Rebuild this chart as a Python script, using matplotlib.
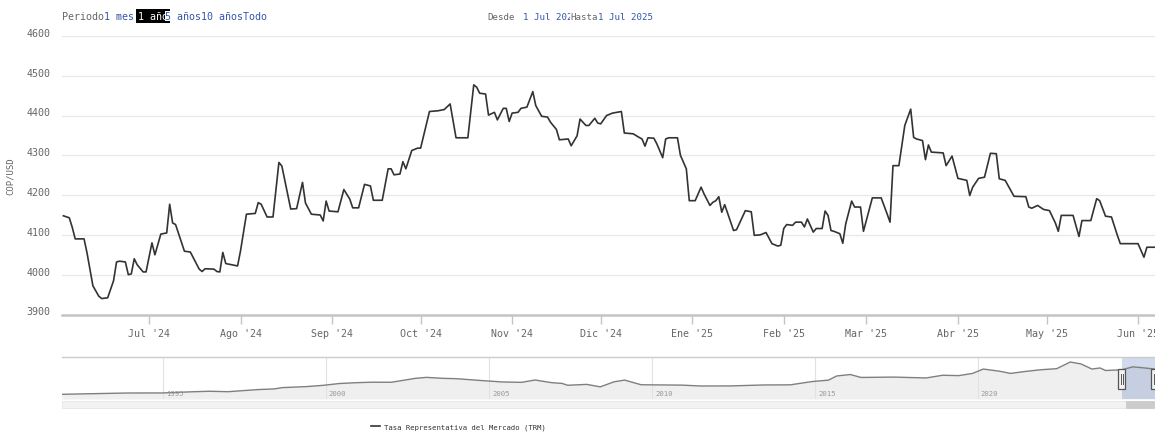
import matplotlib
matplotlib.use("Agg")
import matplotlib.pyplot as plt
import matplotlib.dates as mdates
import matplotlib.patches as mpatches
import matplotlib.lines as mlines
from matplotlib.transforms import blended_transform_factory, ScaledTranslation, IdentityTransform
import pandas as pd

plt.rcParams['font.family'] = ['DejaVu Sans Mono', 'DejaVu Sans']

##### data #####
trm_dates = [
    "2024-06-02", "2024-06-04", "2024-06-05", "2024-06-06", "2024-06-09", "2024-06-10", "2024-06-12",
    "2024-06-14", "2024-06-15", "2024-06-17", "2024-06-19", "2024-06-20", "2024-06-21", "2024-06-23",
    "2024-06-24", "2024-06-25", "2024-06-26", "2024-06-27", "2024-06-29", "2024-06-30",
    "2024-07-02", "2024-07-03", "2024-07-05", "2024-07-07", "2024-07-08", "2024-07-09", "2024-07-10",
    "2024-07-13", "2024-07-15", "2024-07-18", "2024-07-19", "2024-07-20", "2024-07-23", "2024-07-24",
    "2024-07-25", "2024-07-26", "2024-07-27", "2024-07-29", "2024-07-31",
    "2024-08-01", "2024-08-03", "2024-08-06", "2024-08-07", "2024-08-08", "2024-08-10", "2024-08-12",
    "2024-08-14", "2024-08-15", "2024-08-18", "2024-08-20", "2024-08-22", "2024-08-23", "2024-08-25",
    "2024-08-28", "2024-08-29", "2024-08-30", "2024-08-31",
    "2024-09-03", "2024-09-05", "2024-09-07", "2024-09-08", "2024-09-10", "2024-09-12", "2024-09-14",
    "2024-09-15", "2024-09-18", "2024-09-20", "2024-09-21", "2024-09-22", "2024-09-24", "2024-09-25",
    "2024-09-26", "2024-09-28", "2024-09-30",
    "2024-10-01", "2024-10-04", "2024-10-07", "2024-10-09", "2024-10-11", "2024-10-13", "2024-10-17",
    "2024-10-19", "2024-10-20", "2024-10-21", "2024-10-23", "2024-10-24", "2024-10-26", "2024-10-27",
    "2024-10-29", "2024-10-30", "2024-10-31",
    "2024-11-01", "2024-11-03", "2024-11-04", "2024-11-06", "2024-11-08", "2024-11-09", "2024-11-11",
    "2024-11-13", "2024-11-14", "2024-11-16", "2024-11-17", "2024-11-20", "2024-11-21", "2024-11-23",
    "2024-11-24", "2024-11-26", "2024-11-27", "2024-11-29", "2024-11-30",
    "2024-12-01", "2024-12-03", "2024-12-05", "2024-12-08", "2024-12-09", "2024-12-12", "2024-12-14",
    "2024-12-15", "2024-12-16", "2024-12-17", "2024-12-19", "2024-12-20", "2024-12-22", "2024-12-23",
    "2024-12-24", "2024-12-27", "2024-12-28", "2024-12-30", "2024-12-31",
    "2025-01-02", "2025-01-04", "2025-01-05", "2025-01-07", "2025-01-08", "2025-01-09", "2025-01-10",
    "2025-01-11", "2025-01-12", "2025-01-15", "2025-01-16", "2025-01-19", "2025-01-21", "2025-01-22",
    "2025-01-24", "2025-01-26", "2025-01-28", "2025-01-30", "2025-01-31",
    "2025-02-01", "2025-02-02", "2025-02-04", "2025-02-05", "2025-02-07", "2025-02-08", "2025-02-09",
    "2025-02-11", "2025-02-12", "2025-02-14", "2025-02-15", "2025-02-16", "2025-02-17", "2025-02-18",
    "2025-02-20", "2025-02-21", "2025-02-22", "2025-02-24", "2025-02-25", "2025-02-27", "2025-02-28",
    "2025-03-03", "2025-03-06", "2025-03-08", "2025-03-09", "2025-03-10", "2025-03-12", "2025-03-14",
    "2025-03-16", "2025-03-17", "2025-03-18", "2025-03-20", "2025-03-21", "2025-03-22", "2025-03-23",
    "2025-03-27", "2025-03-28", "2025-03-30",
    "2025-04-01", "2025-04-04", "2025-04-05", "2025-04-06", "2025-04-08", "2025-04-10", "2025-04-12",
    "2025-04-14", "2025-04-15", "2025-04-17", "2025-04-20", "2025-04-24", "2025-04-25", "2025-04-26",
    "2025-04-28", "2025-04-30",
    "2025-05-02", "2025-05-04", "2025-05-05", "2025-05-06", "2025-05-10", "2025-05-12", "2025-05-13",
    "2025-05-16", "2025-05-18", "2025-05-19", "2025-05-21", "2025-05-23", "2025-05-25", "2025-05-26",
    "2025-06-01", "2025-06-03", "2025-06-04", "2025-06-07",
]
trm_values = [
    4148, 4143, 4119, 4090, 4090, 4055, 3972,
    3946, 3940, 3942, 3985, 4032, 4034, 4032,
    4000, 4002, 4040, 4025, 4007, 4007,
    4080, 4050, 4102, 4105, 4177, 4130, 4126,
    4059, 4057, 4014, 4008, 4015, 4014, 4008,
    4007, 4056, 4028, 4025, 4022,
    4060, 4152, 4154, 4181, 4177, 4145, 4145,
    4282, 4273, 4165, 4166, 4232, 4180, 4152,
    4150, 4135, 4185, 4160,
    4158, 4214, 4190, 4168, 4168, 4227, 4223,
    4187, 4187, 4266, 4266, 4251, 4253, 4284,
    4266, 4312, 4318,
    4318, 4410, 4412, 4415, 4429, 4344, 4344,
    4477, 4471, 4456, 4454, 4401, 4408, 4389,
    4418, 4418, 4385,
    4406, 4408, 4418, 4421, 4460, 4425, 4398,
    4396, 4383, 4365, 4339, 4341, 4324, 4349,
    4391, 4375, 4375, 4393, 4381,
    4379, 4400, 4406, 4410, 4356, 4354, 4345,
    4341, 4323, 4344, 4343, 4329, 4294, 4341,
    4344, 4344, 4300, 4266, 4186,
    4186, 4220, 4203, 4174, 4182, 4186, 4196,
    4157, 4176, 4111, 4113, 4161, 4158, 4099,
    4100, 4106, 4078, 4072, 4074,
    4116, 4126, 4124, 4132, 4132, 4120, 4140,
    4107, 4116, 4116, 4160, 4149, 4111, 4109,
    4103, 4079, 4128, 4185, 4170, 4170, 4109,
    4193, 4193, 4153, 4132, 4274, 4274, 4375,
    4416, 4345, 4341, 4337, 4289, 4326, 4308,
    4306, 4274, 4298,
    4242, 4237, 4199, 4220, 4242, 4245, 4305,
    4304, 4241, 4237, 4197, 4196, 4170, 4167,
    4174, 4164,
    4161, 4130, 4109, 4149, 4149, 4096, 4136,
    4136, 4191, 4186, 4147, 4145, 4099, 4078,
    4078, 4044, 4069, 4069,
]

# long history shown in the navigator
nav_dates = [
    "1991-11-27", "1992-06-01", "1993-01-01", "1993-12-01", "1995-01-01", "1995-12-01", "1996-06-01",
    "1997-01-01", "1997-12-01", "1998-06-01", "1998-09-01", "1999-06-01", "1999-12-01", "2000-06-01",
    "2000-12-01", "2001-06-01", "2002-01-01", "2002-10-01", "2003-02-01", "2003-08-01", "2004-01-01",
    "2004-09-01", "2005-06-01", "2006-01-01", "2006-06-01", "2006-12-01", "2007-04-01", "2007-06-01",
    "2008-01-01", "2008-06-01", "2008-11-01", "2009-03-01", "2009-09-01", "2010-06-01", "2010-12-01",
    "2011-07-01", "2012-06-01", "2013-06-01", "2014-04-01", "2014-12-01", "2015-06-01", "2015-09-01",
    "2016-02-01", "2016-06-01", "2017-06-01", "2018-06-01", "2018-12-01", "2019-06-01", "2019-11-01",
    "2020-03-01", "2020-09-01", "2021-01-01", "2021-06-01", "2021-12-01", "2022-06-01", "2022-11-01",
    "2023-03-01", "2023-07-01", "2023-10-01", "2023-12-01", "2024-06-01", "2024-10-01", "2025-01-01",
    "2025-06-07",
]
nav_values = [
    640, 690, 740, 820, 830, 990, 1060,
    1000, 1290, 1380, 1560, 1700, 1870, 2120,
    2230, 2300, 2290, 2830, 2960, 2830, 2780,
    2560, 2330, 2280, 2600, 2240, 2130, 1880,
    2000, 1660, 2350, 2590, 1950, 1920, 1900,
    1780, 1790, 1920, 1940, 2390, 2580, 3150,
    3350, 2950, 3000, 2880, 3250, 3200, 3500,
    4100, 3800, 3500, 3750, 4000, 4150, 5060,
    4800, 4100, 4250, 3900, 4000, 4400, 4300,
    4100,
]

month_ticks = ["2024-07-01", "2024-08-01", "2024-09-01", "2024-10-01", "2024-11-01", "2024-12-01",
               "2025-01-01", "2025-02-01", "2025-03-01", "2025-04-01", "2025-05-01", "2025-06-01"]
month_labels = ["Jul '24", "Ago '24", "Sep '24", "Oct '24", "Nov '24", "Dic '24",
                "Ene '25", "Feb '25", "Mar '25", "Abr '25", "May '25", "Jun '25"]
y_ticks = [3900, 4000, 4100, 4200, 4300, 4400, 4500, 4600]
nav_years = [1995, 2000, 2005, 2010, 2015, 2020]

view_start = pd.Timestamp("2024-06-01 12:45")
view_end = pd.Timestamp("2025-06-06 18:00")

GRAY = "#666666"
BLUE = "#3355aa"

W, H = 1155, 435
fig = plt.figure(figsize=(W / 100, H / 100), dpi=100)


def box(l, t, r, b):
    return [l / W, 1 - b / H, (r - l) / W, (b - t) / H]


##### main chart #####
ax = fig.add_axes(box(62, 36.9, 1155, 315.5))
line, = ax.plot(pd.to_datetime(trm_dates), trm_values, color="#333333", lw=1.2)
ax.set_xlim(view_start, view_end)
ax.set_ylim(3900, 4600)
ax.set_yticks(y_ticks)
ax.grid(axis="y", color="#e9e9e9", lw=1)
ax.set_axisbelow(True)
for s in ["top", "right", "left"]:
    ax.spines[s].set_visible(False)
ax.spines["bottom"].set_color("#c4c4c4")
ax.spines["bottom"].set_linewidth(1.8)
ax.set_xticks(pd.to_datetime(month_ticks))
ax.set_xticklabels(month_labels)
ax.tick_params(axis="x", length=6.5, width=1, color="#c4c4c4", pad=3.5, labelsize=7.2, labelcolor=GRAY)
ax.tick_params(axis="y", length=0, pad=8.5, labelsize=7.2, labelcolor=GRAY)
for lbl in ax.get_yticklabels():
    lbl.set_transform(lbl.get_transform() + ScaledTranslation(0, 0.04, fig.dpi_scale_trans))
ax.set_ylabel("COP/USD", fontsize=6.5, color=GRAY)
ax.yaxis.set_label_coords(-0.043, 0.5)

##### navigator #####
nav = fig.add_axes(box(62, 358, 1155, 400))
nd = pd.to_datetime(nav_dates)
nav.fill_between(nd, nav_values, 0, color="#efefef", lw=0)
nav.plot(nd, nav_values, color="#7f7f7f", lw=1.0)
nav.set_xlim(pd.Timestamp("1991-11-27"), pd.Timestamp("2025-06-07"))
nav.set_ylim(0, 5750)
nav.set_xticks([pd.Timestamp(f"{y}-01-01") for y in nav_years])
nav.set_yticks([])
nav.grid(axis="x", color="#e2e2e2", lw=0.8)
nav.tick_params(axis="x", length=0, labelbottom=False)
for s in ["right", "left", "bottom"]:
    nav.spines[s].set_visible(False)
nav.spines["top"].set_color("#cccccc")
nav.spines["top"].set_linewidth(1)
tr = blended_transform_factory(nav.transData, fig.transFigure)
for y in nav_years:
    nav.text(pd.Timestamp(f"{y}-01-01"), 1 - 394 / H, str(y), transform=tr + ScaledTranslation(0.03, 0, fig.dpi_scale_trans),
             fontsize=5.2, color="#999999", va="center", ha="left")

# selected range, handles and scrollbar
nav.axvspan(view_start, view_end, color=(102 / 255, 133 / 255, 194 / 255, 0.3), lw=0)
for d in [view_start, view_end]:
    px = nav.transData.transform((mdates.date2num(d), 0))[0]
    fig.patches.append(mpatches.Rectangle((px - 3.5, H - 390), 7, 20, transform=IdentityTransform(),
                                          facecolor="#f2f2f2", edgecolor="#555555", lw=0.9))
    for dx in (-1.2, 1.2):
        fig.lines.append(mlines.Line2D([px + dx, px + dx], [H - 385, H - 375], transform=IdentityTransform(),
                                       color="#555555", lw=0.7))
fig.patches.append(mpatches.Rectangle((62 / W, 1 - 409 / H), 1093 / W, 7 / H, transform=fig.transFigure,
                                      facecolor="#f2f2f2", edgecolor="#e6e6e6", lw=0.6))
x0 = nav.transData.transform((mdates.date2num(view_start), 0))[0]
x1 = nav.transData.transform((mdates.date2num(view_end), 0))[0]
fig.patches.append(mpatches.Rectangle((x0 + 4, H - 409), x1 - x0 - 4, 7, transform=IdentityTransform(),
                                      facecolor="#cccccc", edgecolor="#cccccc", lw=0.6))

##### range selector texts #####
ty = 1 - 17 / H
fig.text(62 / W, ty, "Periodo", fontsize=7.2, color=GRAY, va="center")
fig.text(104 / W, ty, "1 mes", fontsize=7.2, color=BLUE, va="center")
fig.text(138 / W, ty, "1 año", fontsize=7.2, color="white", va="center",
         bbox=dict(facecolor="black", edgecolor="none", pad=1.5))
fig.text(165 / W, ty, "5 años10 añosTodo", fontsize=7.2, color=BLUE, va="center",
         bbox=dict(facecolor="white", edgecolor="none", pad=0.0))
fig.text(487 / W, ty, "Desde", fontsize=6.6, color=GRAY, va="center")
fig.text(523 / W, ty, "1 Jul 2024", fontsize=6.6, color=BLUE, va="center")
fig.text(570 / W, ty, "Hasta", fontsize=6.6, color=GRAY, va="center",
         bbox=dict(facecolor="white", edgecolor="none", pad=0.0))
fig.text(598 / W, ty, "1 Jul 2025", fontsize=6.6, color=BLUE, va="center")

##### legend #####
fig.legend(handles=[line], labels=["Tasa Representativa del Mercado (TRM)"], loc="center",
           bbox_to_anchor=(458 / W, 1 - 428 / H), frameon=False, fontsize=5.2, handlelength=1.3,
           handletextpad=0.5, labelcolor="#333333")

fig.savefig("out.png", dpi=100)
